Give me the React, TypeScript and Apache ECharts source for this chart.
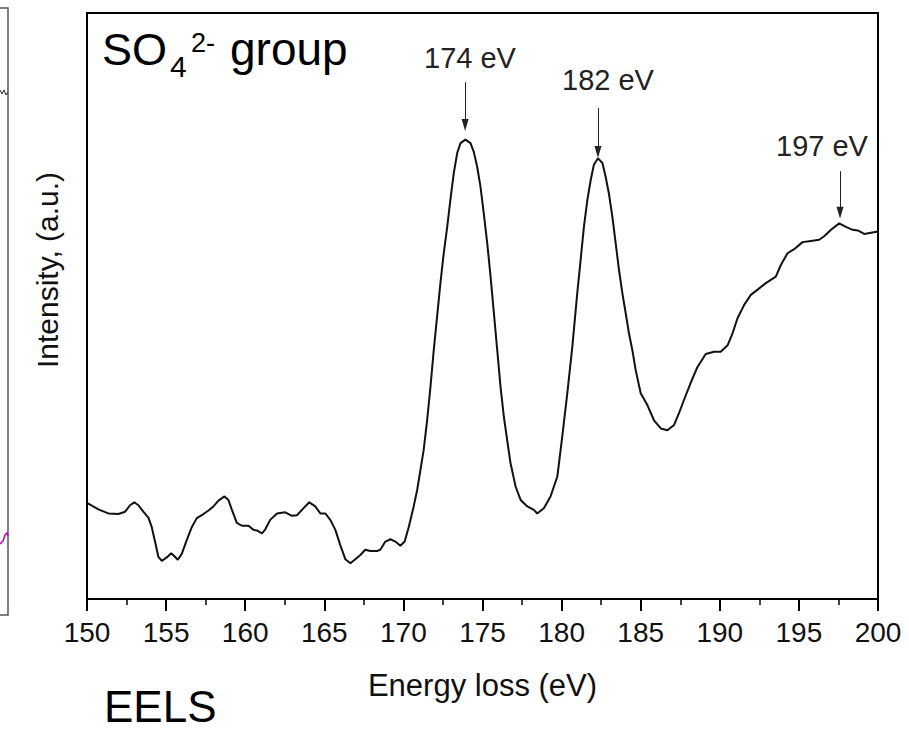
import React, { useEffect, useRef } from "react";
import * as echarts from "echarts";

// Energy loss (eV)
const energy = [
  150.0, 150.72, 151.35, 151.98, 152.41, 152.72, 152.99, 153.25, 153.56, 153.88,
  154.09, 154.3, 154.51, 154.73, 155.04, 155.32, 155.53, 155.74, 155.99, 156.31,
  156.63, 156.94, 157.36, 157.68, 157.99, 158.31, 158.69, 158.94, 159.16, 159.47,
  159.79, 160.21, 160.53, 160.74, 161.06, 161.27, 161.58, 162.01, 162.53, 162.96,
  163.27, 163.69, 164.05, 164.43, 164.75, 165.06, 165.38, 165.7, 166.01, 166.33,
  166.65, 166.96, 167.28, 167.59, 167.91, 168.34, 168.54, 168.86, 169.18, 169.49,
  169.81, 170.08, 170.34, 170.65, 170.87, 171.28, 171.5, 171.71, 171.92, 172.13,
  172.34, 172.55, 172.77, 172.97, 173.18, 173.4, 173.61, 173.92, 174.24, 174.45,
  174.66, 174.87, 175.08, 175.3, 175.51, 175.72, 175.93, 176.14, 176.35, 176.56,
  176.77, 177.09, 177.41, 177.83, 178.25, 178.46, 178.88, 179.3, 179.73, 180.04,
  180.36, 180.68, 180.99, 181.2, 181.41, 181.63, 181.84, 182.04, 182.3, 182.58,
  182.78, 182.99, 183.21, 183.42, 183.63, 183.84, 184.05, 184.26, 184.47, 184.68,
  185.0, 185.42, 185.84, 186.27, 186.69, 187.11, 187.42, 187.74, 188.16, 188.59,
  189.11, 189.64, 190.06, 190.49, 190.8, 191.12, 191.54, 191.96, 192.39, 192.91,
  193.54, 193.86, 194.28, 194.7, 195.23, 195.76, 196.28, 196.6, 197.03, 197.55,
  197.97, 198.4, 198.72, 199.13, 199.56, 200.0,
];

// Intensity (a.u.)
const intensity = [
  16.4, 15.3, 14.6, 14.5, 14.9, 16.0, 16.5, 16.0, 14.9, 13.9,
  12.3, 9.8, 7.2, 6.5, 7.1, 7.8, 7.3, 6.7, 7.7, 10.1,
  12.3, 13.8, 14.5, 15.1, 15.8, 16.8, 17.5, 16.9, 15.2, 13.0,
  12.5, 12.5, 11.8, 11.7, 11.2, 11.9, 13.5, 14.6, 14.8, 14.2,
  14.3, 15.5, 16.5, 15.8, 14.6, 14.6, 13.5, 11.8, 9.2, 6.8,
  6.1, 6.8, 7.5, 8.4, 8.2, 8.2, 8.4, 9.8, 10.2, 9.8,
  9.1, 9.8, 12.3, 15.8, 18.6, 25.4, 30.5, 36.2, 42.5, 48.2,
  53.9, 59.0, 63.5, 68.1, 72.6, 76.1, 77.8, 78.4, 77.8, 76.3,
  73.8, 70.4, 65.8, 60.7, 55.0, 48.8, 42.5, 36.2, 31.1, 27.1,
  23.2, 19.2, 16.9, 15.8, 15.2, 14.6, 15.5, 17.5, 20.9, 27.7,
  35.1, 43.1, 52.2, 57.8, 63.5, 68.1, 71.5, 74.1, 75.2, 74.4,
  72.1, 69.2, 65.2, 60.7, 56.1, 52.2, 48.8, 45.3, 42.5, 39.1,
  35.1, 33.1, 30.5, 29.1, 28.8, 29.7, 31.7, 34.0, 36.9, 39.6,
  41.8, 42.2, 42.2, 43.3, 45.3, 47.9, 50.2, 51.9, 52.8, 53.9,
  55.0, 57.0, 59.0, 59.7, 60.9, 61.1, 61.3, 61.9, 63.0, 64.1,
  63.5, 63.0, 62.9, 62.3, 62.5, 62.7,
];

// Peak annotations
const peakLabels = ["174 eV", "182 eV", "197 eV"];
const peakEnergy = [173.9, 182.3, 197.6];
const arrowTop = [88.2, 83.8, 73.0];
const arrowTip = [80.9, 76.3, 65.9];

const FONT = "'Liberation Sans', Arial, Helvetica, sans-serif";

export default function App() {
  const ref = useRef<HTMLDivElement>(null);

  useEffect(() => {
    if (!ref.current) return;
    const chart = echarts.init(ref.current, undefined, { renderer: "svg" });
    const data = energy.map((e, i) => [e, intensity[i]]);

    const arrows = peakEnergy.map((x, i) => [
      { coord: [x, arrowTop[i]] },
      { coord: [x, arrowTip[i]] },
    ]);

    chart.setOption({
      animation: false,
      backgroundColor: "#fff",
      grid: {
        left: 87,
        right: 31,
        top: 13,
        bottom: 130,
        show: true,
        borderColor: "#000",
        borderWidth: 2,
      },
      xAxis: {
        type: "value",
        min: 150,
        max: 200,
        interval: 5,
        name: "Energy loss (eV)",
        nameLocation: "middle",
        nameGap: 71,
        nameTextStyle: { fontSize: 31, fontFamily: FONT, color: "#111" },
        axisLine: { show: true, lineStyle: { color: "#000", width: 2 } },
        axisTick: { show: true, length: 12, lineStyle: { color: "#000", width: 2 } },
        minorTick: { show: true, splitNumber: 2, length: 6, lineStyle: { color: "#000", width: 1.5 } },
        axisLabel: { fontSize: 28, fontFamily: FONT, color: "#111", margin: 19 },
        splitLine: { show: false },
        minorSplitLine: { show: false },
      },
      yAxis: {
        type: "value",
        min: 0,
        max: 100,
        axisLine: { show: true, lineStyle: { color: "#000", width: 2 } },
        axisTick: { show: false },
        axisLabel: { show: false },
        splitLine: { show: false },
      },
      series: [
        {
          type: "line",
          data,
          showSymbol: false,
          symbol: "none",
          lineStyle: { color: "#111", width: 2 },
          markLine: {
            silent: true,
            symbol: ["none", "triangle"],
            symbolSize: [7, 12],
            label: { show: false },
            lineStyle: { color: "#222", width: 1, type: "solid" },
            data: arrows,
          },
        },
      ],
      graphic: [
        // cropped neighbouring panel at the left edge
        {
          type: "rect",
          shape: { x: -10, y: 8, width: 18, height: 607 },
          style: { fill: "none", stroke: "#555", lineWidth: 1.5 },
        },
        {
          type: "polyline",
          shape: { points: [[0, 90], [2, 94], [4, 90], [6, 95], [8, 92]] },
          style: { stroke: "#222", lineWidth: 1, fill: "none" },
        },
        {
          type: "polyline",
          shape: { points: [[0, 544], [3, 541], [5, 535], [7, 533], [8, 536]] },
          style: { stroke: "#c000c0", lineWidth: 1.5, fill: "none" },
        },
        // y axis title
        {
          type: "text",
          x: 47,
          y: 270,
          rotation: Math.PI / 2,
          style: {
            text: "Intensity, (a.u.)",
            fontSize: 30,
            fontFamily: FONT,
            fill: "#111",
            align: "center",
            verticalAlign: "middle",
          },
        },
        // SO4 2- group
        {
          type: "text",
          x: 102,
          y: 49,
          style: { text: "SO", fontSize: 45, fontFamily: FONT, fill: "#000", align: "left", verticalAlign: "middle" },
        },
        {
          type: "text",
          x: 170,
          y: 66,
          style: { text: "4", fontSize: 30, fontFamily: FONT, fill: "#000", align: "left", verticalAlign: "middle" },
        },
        {
          type: "text",
          x: 191,
          y: 43,
          style: { text: "2-", fontSize: 27, fontFamily: FONT, fill: "#000", align: "left", verticalAlign: "middle" },
        },
        {
          type: "text",
          x: 230,
          y: 49,
          style: { text: "group", fontSize: 46, fontFamily: FONT, fill: "#000", align: "left", verticalAlign: "middle" },
        },
        // peak labels
        {
          type: "text",
          x: 470,
          y: 58,
          style: { text: peakLabels[0], fontSize: 29, fontFamily: FONT, fill: "#222", align: "center", verticalAlign: "middle" },
        },
        {
          type: "text",
          x: 608,
          y: 80,
          style: { text: peakLabels[1], fontSize: 29, fontFamily: FONT, fill: "#222", align: "center", verticalAlign: "middle" },
        },
        {
          type: "text",
          x: 822,
          y: 146,
          style: { text: peakLabels[2], fontSize: 29, fontFamily: FONT, fill: "#222", align: "center", verticalAlign: "middle" },
        },
        // EELS
        {
          type: "text",
          x: 104,
          y: 706,
          style: { text: "EELS", fontSize: 44, fontFamily: FONT, fill: "#000", align: "left", verticalAlign: "middle" },
        },
      ],
    });

    return () => chart.dispose();
  }, []);

  return (
    <div
      ref={ref}
      style={{ position: "absolute", left: 0, top: 0, width: 909, height: 729 }}
    />
  );
}
